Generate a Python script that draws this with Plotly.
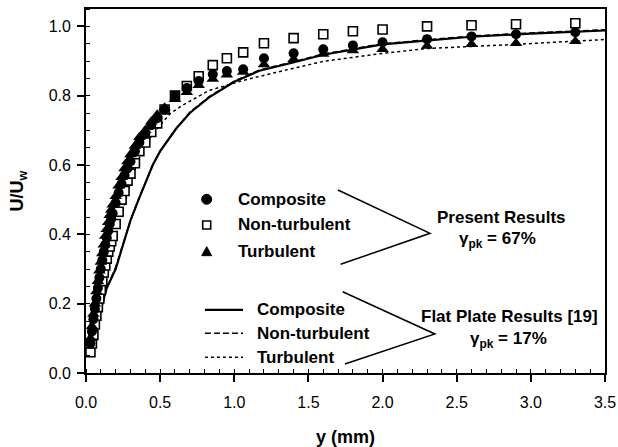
import plotly.graph_objects as go

# ---- Present results (measured points) ----
y_mm = [0.03, 0.04, 0.05, 0.06, 0.07, 0.08, 0.09, 0.10, 0.11, 0.12, 0.13, 0.14, 0.15, 0.16,
        0.17, 0.18, 0.20, 0.22, 0.24, 0.26, 0.28, 0.30, 0.33, 0.36, 0.40, 0.44, 0.48, 0.53,
        0.60, 0.68, 0.76, 0.855, 0.95, 1.06, 1.20, 1.40, 1.60, 1.80, 2.00, 2.30, 2.60, 2.90, 3.30]
composite = [0.085, 0.12, 0.155, 0.185, 0.215, 0.245, 0.275, 0.30, 0.325, 0.35, 0.37, 0.39, 0.41, 0.43,
             0.445, 0.46, 0.49, 0.52, 0.545, 0.57, 0.59, 0.61, 0.64, 0.665, 0.69, 0.715, 0.735, 0.76,
             0.80, 0.822, 0.842, 0.862, 0.871, 0.876, 0.908, 0.922, 0.934, 0.945, 0.954, 0.963, 0.971, 0.977, 0.983]
non_turbulent = [0.06, 0.085, 0.11, 0.14, 0.165, 0.19, 0.215, 0.24, 0.265, 0.29, 0.31, 0.33, 0.35, 0.365,
                 0.38, 0.395, 0.43, 0.465, 0.50, 0.525, 0.555, 0.575, 0.605, 0.64, 0.665, 0.695, 0.72, 0.76,
                 0.80, 0.828, 0.856, 0.888, 0.908, 0.925, 0.951, 0.966, 0.977, 0.986, 0.991, 1.0, 1.003, 1.006, 1.009]
turbulent = [0.10, 0.135, 0.17, 0.20, 0.235, 0.265, 0.295, 0.32, 0.345, 0.37, 0.395, 0.415, 0.435, 0.455,
             0.47, 0.485, 0.51, 0.54, 0.565, 0.59, 0.61, 0.63, 0.655, 0.68, 0.70, 0.725, 0.745, 0.765,
             0.79, 0.81, 0.83, 0.848, 0.86, 0.868, 0.89, 0.905, 0.92, 0.93, 0.934, 0.943, 0.948, 0.951, 0.957]

# ---- Flat plate results [19] (curves) ----
fp_y = [0.03, 0.06, 0.10, 0.14, 0.20, 0.25, 0.30, 0.35, 0.41, 0.45, 0.50, 0.61, 0.70, 0.83,
        1.00, 1.17, 1.39, 1.60, 2.00, 2.30, 2.60, 3.00, 3.50]
fp_composite = [0.075, 0.12, 0.18, 0.245, 0.30, 0.37, 0.44, 0.495, 0.555, 0.60, 0.64, 0.706, 0.75, 0.795,
                0.84, 0.872, 0.895, 0.918, 0.948, 0.96, 0.97, 0.979, 0.988]
fp_non_turbulent = [0.075, 0.12, 0.18, 0.245, 0.305, 0.372, 0.44, 0.497, 0.556, 0.60, 0.64, 0.706, 0.752, 0.797,
                    0.842, 0.874, 0.897, 0.92, 0.95, 0.962, 0.972, 0.981, 0.99]
fp_turb_y = [0.03, 0.05, 0.10, 0.15, 0.20, 0.25, 0.30, 0.35, 0.40, 0.48, 0.57, 0.65, 0.83, 1.06,
             1.28, 1.60, 2.00, 2.30, 2.90, 3.50]
fp_turbulent = [0.08, 0.12, 0.22, 0.32, 0.40, 0.47, 0.55, 0.61, 0.66, 0.705, 0.749, 0.772, 0.815, 0.844,
                0.867, 0.899, 0.922, 0.936, 0.948, 0.962]

x_ticks = [0.0, 0.5, 1.0, 1.5, 2.0, 2.5, 3.0, 3.5]
y_ticks = [0.0, 0.2, 0.4, 0.6, 0.8, 1.0]

FONT = "Arial, Liberation Sans, Helvetica, sans-serif"

fig = go.Figure()

# curves
fig.add_trace(go.Scatter(x=fp_turb_y, y=fp_turbulent, mode="lines",
                         line=dict(color="black", width=1.5, dash="dot"), showlegend=False))
fig.add_trace(go.Scatter(x=fp_y, y=fp_non_turbulent, mode="lines",
                         line=dict(color="black", width=1.5, dash="6px,3px"), showlegend=False))
fig.add_trace(go.Scatter(x=fp_y, y=fp_composite, mode="lines",
                         line=dict(color="black", width=2.2), showlegend=False))

# markers
fig.add_trace(go.Scatter(x=y_mm, y=non_turbulent, mode="markers",
                         marker=dict(symbol="square", size=9, color="white",
                                     line=dict(color="black", width=1.6)), showlegend=False))
fig.add_trace(go.Scatter(x=y_mm, y=composite, mode="markers",
                         marker=dict(symbol="circle", size=10, color="black"), showlegend=False))
fig.add_trace(go.Scatter(x=y_mm, y=turbulent, mode="markers",
                         marker=dict(symbol="triangle-up", size=11, color="black"), showlegend=False))

shapes = []
ann = []
tf = dict(family=FONT, size=17, color="black")

# legend 1 (markers)
lx = 0.814
shapes.append(dict(type="circle", xref="x", yref="y", xsizemode="pixel", ysizemode="pixel",
                   xanchor=lx, yanchor=0.501, x0=-5, x1=5, y0=-5, y1=5,
                   fillcolor="black", line=dict(color="black", width=1)))
shapes.append(dict(type="rect", xref="x", yref="y", xsizemode="pixel", ysizemode="pixel",
                   xanchor=lx, yanchor=0.427, x0=-4, x1=4, y0=-4, y1=4,
                   fillcolor="white", line=dict(color="black", width=1.6)))
shapes.append(dict(type="path", xref="x", yref="y", xsizemode="pixel", ysizemode="pixel",
                   xanchor=lx, yanchor=0.350, path="M -5,-4 L 5,-4 L 0,5 Z",
                   fillcolor="black", line=dict(color="black", width=1)))
for yy, txt in [(0.501, "Composite"), (0.427, "Non-turbulent"), (0.350, "Turbulent")]:
    ann.append(dict(x=1.011, y=yy, xref="x", yref="y", text="<b>%s</b>" % txt, showarrow=False,
                    xanchor="left", yanchor="middle", font=tf))

# bracket 1
shapes.append(dict(type="path", xref="x", yref="y",
                   path="M 1.699,0.528 L 2.320,0.403 L 1.717,0.3135",
                   line=dict(color="black", width=1.5)))
ann.append(dict(x=2.803, y=0.448, xref="x", yref="y", text="<b>Present Results</b>", showarrow=False,
                xanchor="center", yanchor="middle", font=tf))
ann.append(dict(x=2.778, y=0.384, xref="x", yref="y", text="<b>γ<sub>pk</sub> = 67%</b>", showarrow=False,
                xanchor="center", yanchor="middle", font=tf))

# legend 2 (lines)
for yy, dash, w, txt in [(0.182, "solid", 2.2, "Composite"), (0.1145, "6px,3px", 1.5, "Non-turbulent"),
                         (0.0453, "dot", 1.5, "Turbulent")]:
    shapes.append(dict(type="line", xref="x", yref="y", x0=0.802, x1=1.059, y0=yy, y1=yy,
                       line=dict(color="black", width=w, dash=dash)))
    ann.append(dict(x=1.140, y=yy, xref="x", yref="y", text="<b>%s</b>" % txt, showarrow=False,
                    xanchor="left", yanchor="middle", font=tf))

# bracket 2
shapes.append(dict(type="path", xref="x", yref="y",
                   path="M 1.731,0.2345 L 2.353,0.1125 L 1.746,0.026",
                   line=dict(color="black", width=1.5)))
ann.append(dict(x=2.859, y=0.162, xref="x", yref="y", text="<b>Flat Plate Results [19]</b>", showarrow=False,
                xanchor="center", yanchor="middle", font=tf))
ann.append(dict(x=2.846, y=0.095, xref="x", yref="y", text="<b>γ<sub>pk</sub> = 17%</b>", showarrow=False,
                xanchor="center", yanchor="middle", font=tf))

fig.update_layout(
    width=618, height=447,
    margin=dict(l=86, r=13, t=9, b=74),
    paper_bgcolor="white", plot_bgcolor="white",
    font=dict(family=FONT, color="black"),
    shapes=shapes, annotations=ann,
    xaxis=dict(range=[0, 3.5], tickvals=x_ticks, ticktext=["%.1f" % v for v in x_ticks],
               ticks="outside", ticklen=7, tickwidth=1.5, tickcolor="black",
               showline=True, linecolor="black", linewidth=1.8, mirror=True,
               showgrid=False, zeroline=False, automargin=False,
               tickfont=dict(family=FONT, size=16, color="black"), ticklabelstandoff=7,
               minor=dict(ticks="inside", dtick=0.1, ticklen=4, tickcolor="black", tickwidth=1, showgrid=False),
               title=dict(text="<b>y (mm)</b>", font=dict(family=FONT, size=18, color="black"), standoff=24)),
    yaxis=dict(range=[0, 1.05], tickvals=y_ticks, ticktext=["%.1f" % v for v in y_ticks],
               ticks="outside", ticklen=7, tickwidth=1.5, tickcolor="black",
               showline=True, linecolor="black", linewidth=1.8, mirror=True,
               showgrid=False, zeroline=False, automargin=False,
               tickfont=dict(family=FONT, size=16, color="black"), ticklabelstandoff=3,
               minor=dict(ticks="inside", dtick=0.05, ticklen=4, tickcolor="black", tickwidth=1, showgrid=False),
               title=dict(text="<b>U/U<sub>w</sub></b>", font=dict(family=FONT, size=18, color="black"), standoff=20)),
)

fig.write_html("out.html")
